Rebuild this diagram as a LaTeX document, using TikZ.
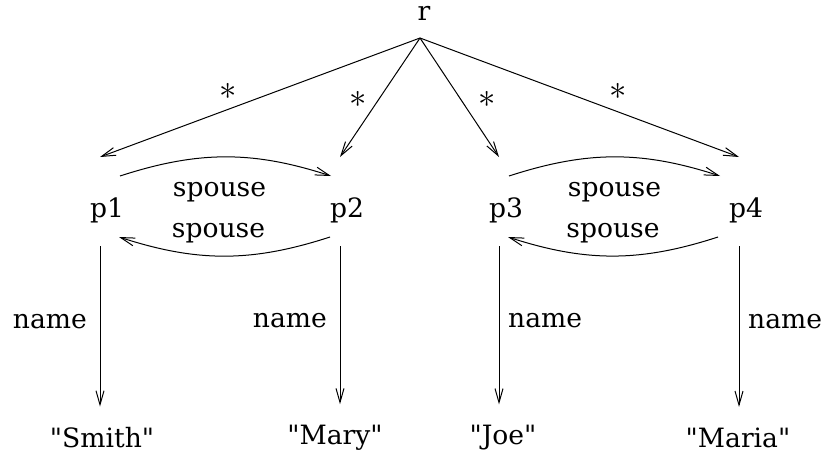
\documentclass[tikz,border=0pt]{standalone}
\usepackage{fontspec}
\setmainfont{DejaVu Serif}
\usetikzlibrary{arrows.meta,calc}

\begin{document}
\begin{tikzpicture}[x=0.5pt,y=-0.5pt,line width=0.5pt,font=\fontsize{13.3}{16}\selectfont,
  arr/.style={-{Straight Barb[length=7pt,width=4pt]}},
  star/.style={font=\fontsize{17}{20}\selectfont}]
  \useasboundingbox (0,0) rectangle (828,466);
  % racine et personnes
  \node (r) at (424,13) {r};
  \node (p1) at (107,210) {p1};
  \node (p2) at (347,210) {p2};
  \node (p3) at (506,210) {p3};
  \node (p4) at (746,210) {p4};
  \node (smith) at (102,438) {\textquotedbl Smith\textquotedbl};
  \node (mary) at (335,438) {\textquotedbl Mary\textquotedbl};
  \node (joe) at (503,438) {\textquotedbl Joe\textquotedbl};
  \node (maria) at (738,438) {\textquotedbl Maria\textquotedbl};
  % aretes etoilees
  \draw[arr] ($(r)+(-4,25)$) -- ($(p1)+(-7,-53)$) node[star,pos=0.6,yshift=9pt]{$\ast$};
  \draw[arr] ($(r)+(-4,25)$) -- ($(p2)+(-7,-53)$) node[star,pos=0.52,xshift=-10pt]{$\ast$};
  \draw[arr] ($(r)+(-4,25)$) -- ($(p3)+(-7,-53)$) node[star,pos=0.52,xshift=13pt]{$\ast$};
  \draw[arr] ($(r)+(-4,25)$) -- ($(p4)+(-7,-53)$) node[star,pos=0.62,yshift=10pt]{$\ast$};
  % spouse
  \draw[arr] ($(p1)+(13,-34)$) to[bend left=18] node[midway,below=9pt,xshift=-3pt]{spouse} ($(p2)+(-16,-34)$);
  \draw[arr] ($(p2)+(-17,27)$) to[bend left=18] node[midway,above=2.7pt,xshift=-3pt]{spouse} ($(p1)+(12,27)$);
  \draw[arr] ($(p3)+(3,-34)$) to[bend left=18] node[midway,below=9pt]{spouse} ($(p4)+(-26,-34)$);
  \draw[arr] ($(p4)+(-28,27)$) to[bend left=18] node[midway,above=2.7pt]{spouse} ($(p3)+(2,27)$);
  % name
  \draw[arr] ($(p1)+(-7,36)$) -- ($(smith.north -| p1)+(-7,-14)$) node[pos=0.47,left=3pt]{name};
  \draw[arr] ($(p2)+(-7,36)$) -- ($(mary.north -| p2)+(-7,-14)$) node[pos=0.47,left=3pt]{name};
  \draw[arr] ($(p3)+(-7,36)$) -- ($(joe.north -| p3)+(-7,-14)$) node[pos=0.47,right=1pt]{name};
  \draw[arr] ($(p4)+(-7,36)$) -- ($(maria.north -| p4)+(-7,-14)$) node[pos=0.47,right=1pt]{name};
\end{tikzpicture}
\end{document}
